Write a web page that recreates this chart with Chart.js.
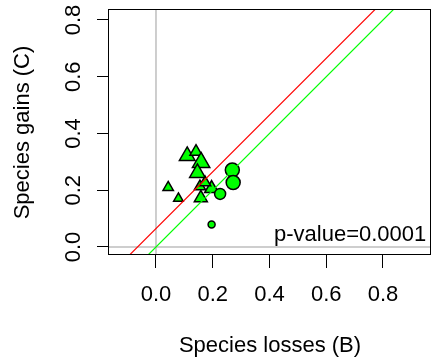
<!DOCTYPE html>
<html>
<head>
<meta charset="utf-8">
<script src="https://cdn.jsdelivr.net/npm/chart.js@4"></script>
<style>
  html, body { margin: 0; padding: 0; background: #fff; }
  #wrap { width: 432px; height: 361px; }
</style>
</head>
<body>
<div id="wrap"><canvas id="scatterChart" width="432" height="361"></canvas></div>
<script>
// 軸範圍與刻度
const xLimits = [-0.1656, 0.9692];
const yLimits = [-0.0282, 0.8352];
const tickValues = [0, 0.2, 0.4, 0.6, 0.8];
const tickLabels = ['0.0', '0.2', '0.4', '0.6', '0.8'];

// 三角形 (pch 24)
const triX = [0.110, 0.141, 0.159, 0.146, 0.043, 0.079, 0.155, 0.158, 0.196, 0.173];
const triY = [0.321, 0.336, 0.298, 0.261, 0.210, 0.171, 0.213, 0.173, 0.206, 0.227];
const triSize = [9, 7, 10, 9, 6, 5.5, 6.5, 7.5, 8, 6.5];

// 圓點 (pch 21)
const circX = [0.269, 0.272, 0.226, 0.196];
const circY = [0.271, 0.227, 0.187, 0.079];
const circSize = [7, 7, 5.5, 3.5];

// abline: 截距與斜率
const redLine = { a: 0.065, b: 1 };
const greenLine = { a: 0, b: 1 };
const refLines = { h: 0, v: 0 };

const pText = 'p-value=0.0001';

Chart.defaults.font.family = "'Liberation Sans', Arial, sans-serif";
Chart.defaults.color = '#000';

function ablinePoints(line) {
    return xLimits.map(x => ({ x: x, y: line.a + line.b * x }));
}

const fontMain = { size: 22, family: "'Liberation Sans', Arial, sans-serif" };

// 外框與 p 值文字
const boxPlugin = {
    id: 'boxPlugin',
    afterDraw(chart) {
        const { ctx, chartArea } = chart;
        ctx.save();
        ctx.strokeStyle = '#000';
        ctx.lineWidth = 1;
        ctx.strokeRect(Math.round(chartArea.left) - 0.5, Math.round(chartArea.top) - 0.5,
            Math.round(chartArea.right - chartArea.left), Math.round(chartArea.bottom - chartArea.top));
        ctx.fillStyle = '#000';
        ctx.font = "22px 'Liberation Sans', Arial, sans-serif";
        ctx.textAlign = 'left';
        ctx.textBaseline = 'alphabetic';
        ctx.fillText(pText, chartArea.left + 165, chartArea.bottom - 14);
        ctx.restore();
    }
};

function fixAxis(scale, size) {
    if (scale.isHorizontal()) scale.height = size; else scale.width = size;
    scale.paddingTop = 0;
    scale.paddingBottom = 0;
    scale.paddingLeft = 0;
    scale.paddingRight = 0;
}

const ctx = document.getElementById('scatterChart').getContext('2d');
new Chart(ctx, {
    type: 'scatter',
    data: {
        datasets: [
            {
                data: [{ x: refLines.v, y: yLimits[0] }, { x: refLines.v, y: yLimits[1] }],
                showLine: true, borderColor: '#bebebe', borderWidth: 1.5, pointRadius: 0, order: 5
            },
            {
                data: xLimits.map(x => ({ x: x, y: refLines.h })),
                showLine: true, borderColor: '#bebebe', borderWidth: 1.5, pointRadius: 0, order: 5
            },
            {
                data: triX.map((x, i) => ({ x: x, y: triY[i] })),
                pointStyle: 'triangle',
                pointRadius: triSize,
                backgroundColor: '#00ff00',
                borderColor: '#000',
                borderWidth: 1.5,
                order: 3
            },
            {
                data: circX.map((x, i) => ({ x: x, y: circY[i] })),
                pointStyle: 'circle',
                pointRadius: circSize,
                backgroundColor: '#00ff00',
                borderColor: '#000',
                borderWidth: 1.5,
                order: 2
            },
            {
                data: ablinePoints(greenLine),
                showLine: true, borderColor: '#00ff00', borderWidth: 1.2, pointRadius: 0, order: 1
            },
            {
                data: ablinePoints(redLine),
                showLine: true, borderColor: '#ff0000', borderWidth: 1.2, pointRadius: 0, order: 0
            }
        ]
    },
    options: {
        responsive: false,
        animation: false,
        layout: { autoPadding: false, padding: { top: 10, right: 1, left: 0, bottom: 0 } },
        plugins: { legend: { display: false }, tooltip: { enabled: false } },
        scales: {
            x: {
                type: 'linear',
                min: xLimits[0],
                max: xLimits[1],
                afterBuildTicks: s => { s.ticks = tickValues.map(v => ({ value: v })); },
                afterFit: s => fixAxis(s, 106),
                grid: { drawOnChartArea: false, drawTicks: true, tickLength: 13, tickColor: '#000', tickWidth: 1 },
                border: { display: false },
                ticks: {
                    font: fontMain, color: '#000', padding: 14, maxRotation: 0, autoSkip: false,
                    callback: (v, i) => tickLabels[i]
                },
                title: { display: true, text: 'Species losses (B)', font: fontMain, color: '#000', padding: { top: 0, bottom: 2 } }
            },
            y: {
                type: 'linear',
                min: yLimits[0],
                max: yLimits[1],
                afterBuildTicks: s => { s.ticks = tickValues.map(v => ({ value: v })); },
                afterFit: s => fixAxis(s, 109),
                grid: { drawOnChartArea: false, drawTicks: true, tickLength: 12, tickColor: '#000', tickWidth: 1 },
                border: { display: false },
                ticks: {
                    font: fontMain, color: '#000', padding: 8, minRotation: 90, maxRotation: 90,
                    crossAlign: 'center', autoSkip: false,
                    callback: (v, i) => tickLabels[i]
                },
                title: { display: true, text: 'Species gains (C)', font: fontMain, color: '#000', padding: { top: 10, bottom: 0 } }
            }
        }
    },
    plugins: [boxPlugin]
});
</script>
</body>
</html>
